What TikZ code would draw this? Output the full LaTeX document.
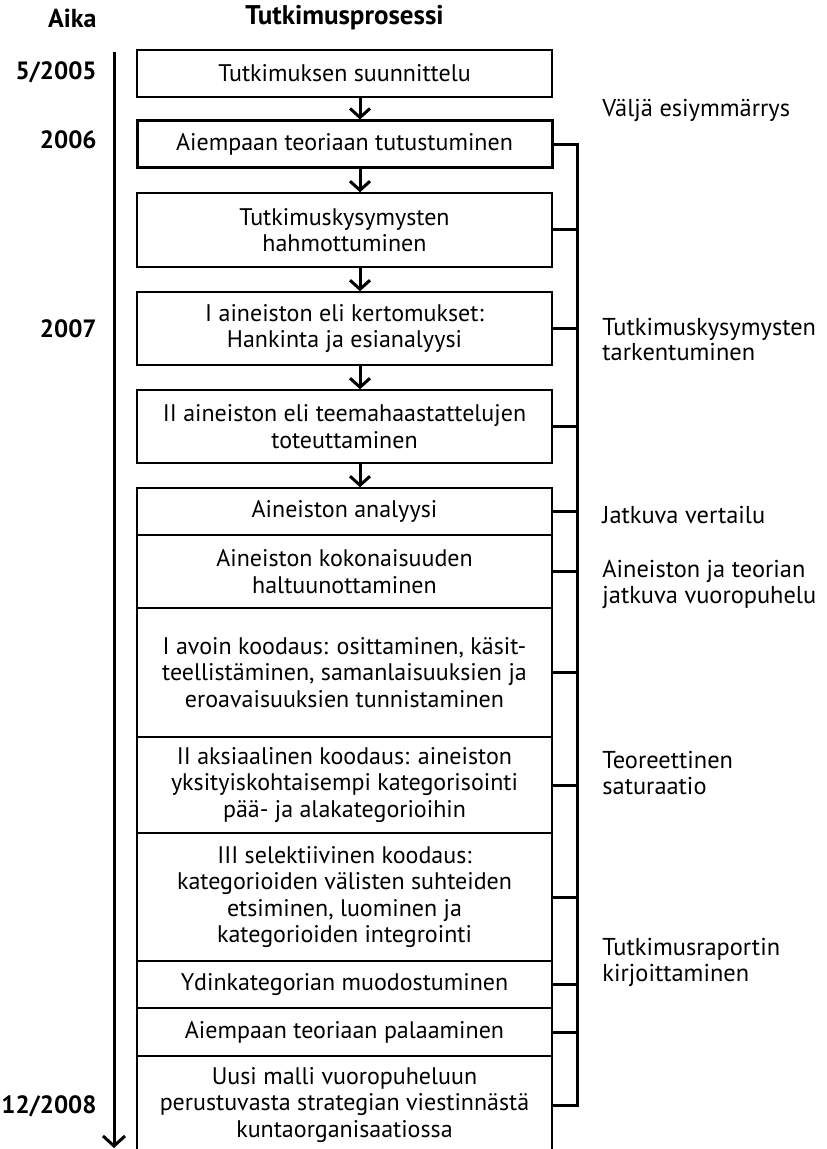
\documentclass[tikz,border=0pt]{standalone}
\usepackage{fontspec}
\setmainfont{PT Sans}
\usepackage{tikz}
\usetikzlibrary{calc,arrows.meta}
\definecolor{ink}{RGB}{0,0,0}

\begin{document}
\begin{tikzpicture}[x=0.5pt, y=-0.5pt,
  stage/.style={draw=ink, line width=0.75pt, minimum width=207.5pt, inner sep=0pt,
    align=center, font=\fontsize{12}{13.3}\selectfont},
  keystage/.style={stage, line width=1.5pt},
  datelabel/.style={font=\fontsize{12.5}{13}\selectfont\bfseries, anchor=east, inner sep=0pt},
  phaselabel/.style={font=\fontsize{12.2}{12.8}\selectfont, anchor=west, align=left, inner sep=0pt},
  flow/.style={draw=ink, line width=1.5pt, -{Straight Barb[length=4.5pt, width=10pt]}},
  bracket/.style={draw=ink, line width=1.5pt}
]
\useasboundingbox (0,0) rectangle (826,1149);
\clip (0,0) rectangle (826,1149);
% headings
\node[datelabel, font=\fontsize{13}{13}\selectfont\bfseries] (haika) at (97, 18) {Aika};
\node[font=\fontsize{13.5}{13}\selectfont\bfseries] (hproc) at (344.5, 18) {Tutkimusprosessi};
% time axis
\coordinate (ttop) at (114, 52);
\coordinate (tend) at (114, 1148);
\draw[draw=ink, line width=1.5pt, -{Straight Barb[length=5pt, width=11pt]}] (ttop) -- (tend);
\node[datelabel] (d2005) at (97, 72) {5/2005};
\node[datelabel] (d2006) at (97, 140) {2006};
\node[datelabel] (d2007) at (97, 329) {2007};
\node[datelabel] (d2008) at (97, 1106) {12/2008};
% process stages, top to bottom
\node[stage, minimum height=23.5pt] (b1) at (344.5, 73.5) {Tutkimuksen suunnittelu};
\node[keystage, minimum height=23.5pt] (b2) at (344.5, 144.5) {Aiempaan teoriaan tutustuminen};
\node[stage, minimum height=37pt] (b3) at (344.5, 230) {Tutkimuskysymysten\\hahmottuminen};
\node[stage, minimum height=36.5pt] (b4) at (344.5, 328.5) {I aineiston eli kertomukset:\\Hankinta ja esianalyysi};
\node[stage, minimum height=36.5pt] (b5) at (344.5, 426.5) {II aineiston eli teemahaastattelujen\\toteuttaminen};
\node[stage, minimum height=23.5pt] (b6) at (344.5, 511.5) {Aineiston analyysi};
\node[stage, minimum height=36.5pt] (b7) at (344.5, 571.5) {Aineiston kokonaisuuden\\haltuunottaminen};
\node[stage, minimum height=64.5pt] (b8) at (344.5, 672.5) {I avoin koodaus: osittaminen, käsit-\\teellistäminen, samanlaisuuksien ja\\eroavaisuuksien tunnistaminen};
\node[stage, minimum height=48pt] (b9) at (344.5, 785) {II aksiaalinen koodaus: aineiston\\yksityiskohtaisempi kategorisointi\\pää- ja alakategorioihin};
\node[stage, minimum height=64pt] (b10) at (344.5, 897) {III selektiivinen koodaus:\\kategorioiden välisten suhteiden\\etsiminen, luominen ja\\kategorioiden integrointi};
\node[stage, minimum height=23.5pt] (b11) at (344.5, 984.5) {Ydinkategorian muodostuminen};
\node[stage, minimum height=24pt] (b12) at (344.5, 1032) {Aiempaan teoriaan palaaminen};
\node[stage, minimum height=49pt] (b13) at (344.5, 1105) {Uusi malli vuoropuheluun\\perustuvasta strategian viestinnästä\\kuntaorganisaatiossa};
% arrows between the first stages
\foreach \a/\b in {b1/b2, b2/b3, b3/b4, b4/b5, b5/b6} {
  \draw[flow] ([xshift=7.75pt]\a.south) -- ([xshift=7.75pt]\b.north);
}
% bracket on the right
\coordinate (rail) at (577, 0);
\draw[bracket] (b2.east) -- (b2.east -| rail) -- (b13.east -| rail) -- (b13.east);
\foreach \b in {b3, b4, b5, b6, b7, b8, b9, b10, b11, b12} {
  \draw[bracket] (\b.east) -- (\b.east -| rail);
}
% phase labels
\node[phaselabel] (p1) at (602, 110) {Väljä esiymmärrys};
\node[phaselabel] (p2) at (602, 339.5) {Tutkimuskysymysten\\tarkentuminen};
\node[phaselabel] (p3) at (602, 515) {Jatkuva vertailu};
\node[phaselabel] (p4) at (602, 584.5) {Aineiston ja teorian\\jatkuva vuoropuhelu};
\node[phaselabel] (p5) at (602, 773) {Teoreettinen\\saturaatio};
\node[phaselabel] (p6) at (602, 962.5) {Tutkimusraportin\\kirjoittaminen};
\end{tikzpicture}
\end{document}
